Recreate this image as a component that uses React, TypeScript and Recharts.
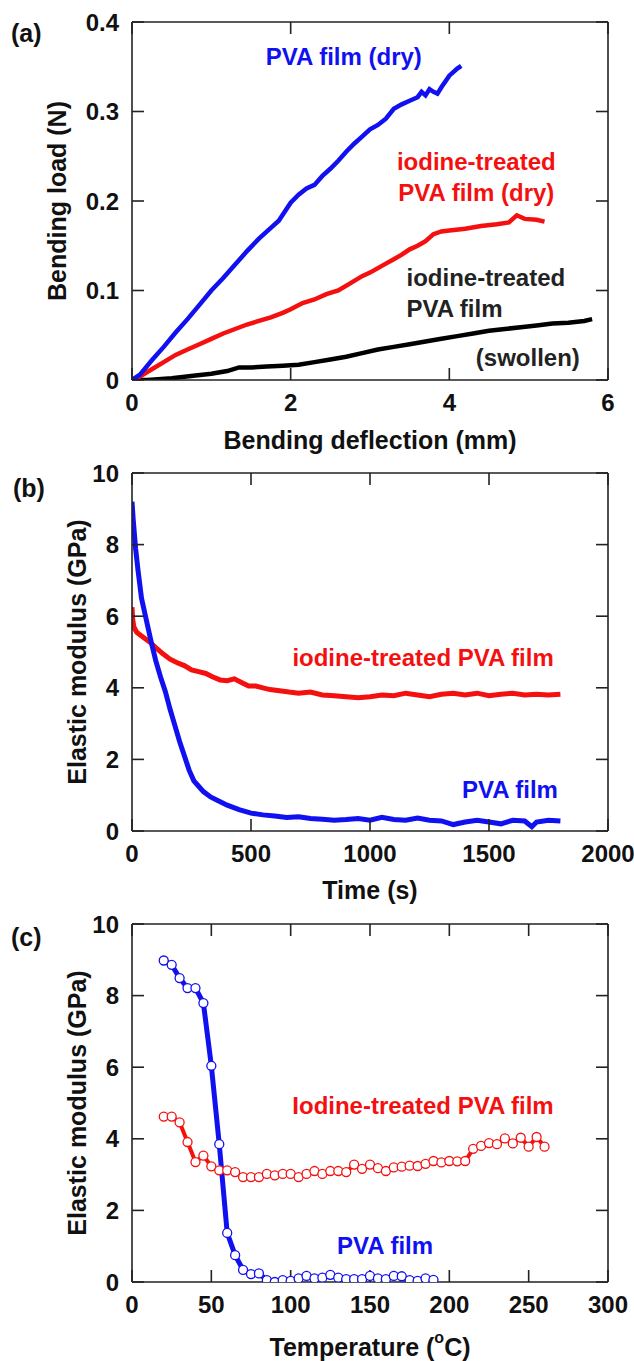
import React from "react";
import { LineChart, Line, XAxis, YAxis, ReferenceDot } from "recharts";

const FONT = '"Liberation Sans", Arial, Helvetica, sans-serif';
const BLUE = "#1010f0";
const RED = "#f51010";
const INK = "#111";

// (a) bending load vs deflection, [mm, N]
const pvaDry: [number, number][] = [
  [0, 0], [0.1, 0.006], [0.25, 0.022], [0.4, 0.037], [0.55, 0.053], [0.7, 0.068], [0.85, 0.084],
  [1.0, 0.1], [1.15, 0.114], [1.3, 0.129], [1.45, 0.144], [1.6, 0.158], [1.75, 0.17], [1.85, 0.178],
  [2.0, 0.198], [2.1, 0.207], [2.2, 0.214], [2.3, 0.218], [2.4, 0.228], [2.5, 0.236], [2.6, 0.245],
  [2.7, 0.255], [2.8, 0.264], [2.9, 0.272], [3.0, 0.28], [3.1, 0.285], [3.2, 0.292], [3.3, 0.303],
  [3.4, 0.308], [3.5, 0.312], [3.6, 0.316], [3.65, 0.322], [3.7, 0.318], [3.75, 0.325], [3.8, 0.322],
  [3.85, 0.32], [3.9, 0.327], [4.0, 0.34], [4.1, 0.348], [4.15, 0.351],
];
const iodineDry: [number, number][] = [
  [0, 0], [0.1, 0.004], [0.25, 0.012], [0.4, 0.02], [0.55, 0.028], [0.7, 0.034], [0.85, 0.04],
  [1.0, 0.046], [1.15, 0.052], [1.3, 0.057], [1.45, 0.062], [1.6, 0.066], [1.75, 0.07], [1.9, 0.075],
  [2.0, 0.079], [2.15, 0.086], [2.3, 0.09], [2.45, 0.096], [2.6, 0.1], [2.75, 0.108], [2.9, 0.116],
  [3.0, 0.12], [3.1, 0.125], [3.2, 0.13], [3.3, 0.135], [3.4, 0.14], [3.5, 0.146], [3.6, 0.15],
  [3.7, 0.155], [3.8, 0.163], [3.9, 0.166], [4.0, 0.167], [4.2, 0.169], [4.4, 0.172], [4.6, 0.174],
  [4.75, 0.176], [4.85, 0.184], [4.95, 0.18], [5.1, 0.179], [5.2, 0.177],
];
const iodineSwollen: [number, number][] = [
  [0, 0], [0.2, 0.0], [0.5, 0.002], [0.8, 0.005], [1.0, 0.007], [1.2, 0.01], [1.35, 0.014],
  [1.5, 0.014], [1.7, 0.015], [1.9, 0.016], [2.1, 0.017], [2.3, 0.02], [2.5, 0.023], [2.7, 0.026],
  [2.9, 0.03], [3.1, 0.034], [3.3, 0.037], [3.5, 0.04], [3.7, 0.043], [3.9, 0.046], [4.1, 0.049],
  [4.3, 0.052], [4.5, 0.055], [4.7, 0.057], [4.9, 0.059], [5.1, 0.061], [5.3, 0.063], [5.5, 0.064],
  [5.7, 0.066], [5.8, 0.068],
];
const aXTicks = [0, 2, 4, 6];
const aYTicks = [0, 0.1, 0.2, 0.3, 0.4];

// (b) elastic modulus vs time, [s, GPa]
const pvaTime: [number, number][] = [
  [0, 9.2], [5, 8.7], [15, 7.9], [25, 7.3], [40, 6.5], [60, 5.9], [80, 5.3], [100, 4.75], [120, 4.3],
  [140, 3.9], [160, 3.4], [180, 2.95], [200, 2.5], [220, 2.1], [240, 1.7], [260, 1.4], [280, 1.25],
  [300, 1.1], [330, 0.95], [360, 0.85], [400, 0.72], [450, 0.6], [500, 0.5], [550, 0.45], [600, 0.42],
  [650, 0.38], [700, 0.4], [750, 0.35], [800, 0.33], [850, 0.3], [900, 0.32], [950, 0.35], [1000, 0.3],
  [1050, 0.38], [1100, 0.32], [1150, 0.3], [1200, 0.36], [1250, 0.3], [1300, 0.28], [1350, 0.18],
  [1400, 0.25], [1450, 0.3], [1500, 0.25], [1550, 0.2], [1600, 0.3], [1650, 0.28], [1680, 0.12],
  [1700, 0.25], [1750, 0.3], [1800, 0.28],
];
const iodineTime: [number, number][] = [
  [0, 6.25], [3, 5.9], [8, 5.7], [20, 5.55], [40, 5.45], [60, 5.35], [80, 5.25], [100, 5.12],
  [130, 4.95], [160, 4.8], [190, 4.7], [220, 4.62], [250, 4.5], [280, 4.45], [310, 4.4], [340, 4.3],
  [370, 4.22], [400, 4.2], [430, 4.25], [460, 4.15], [490, 4.05], [520, 4.05], [550, 4.0], [580, 3.95],
  [620, 3.92], [660, 3.88], [700, 3.85], [750, 3.88], [800, 3.8], [850, 3.78], [900, 3.75], [950, 3.72],
  [1000, 3.75], [1050, 3.8], [1100, 3.78], [1150, 3.85], [1200, 3.8], [1250, 3.75], [1300, 3.82],
  [1350, 3.85], [1400, 3.8], [1450, 3.85], [1500, 3.78], [1550, 3.82], [1600, 3.85], [1650, 3.8],
  [1700, 3.82], [1750, 3.8], [1800, 3.82],
];
const bXTicks = [0, 500, 1000, 1500, 2000];
const bYTicks = [0, 2, 4, 6, 8, 10];

// (c) elastic modulus vs temperature
const pvaTemps = [20, 25, 30, 35, 40, 45, 50, 55, 60, 65, 70, 75, 80, 85, 90, 95, 100, 105, 110, 115, 120, 125, 130, 135, 140, 145, 150, 155, 160, 165, 170, 175, 180, 185, 190];
const pvaModulus = [8.98, 8.86, 8.49, 8.21, 8.21, 7.79, 6.04, 3.85, 1.37, 0.75, 0.34, 0.22, 0.24, 0.05, 0.0, 0.05, 0.03, 0.1, 0.17, 0.1, 0.12, 0.2, 0.12, 0.08, 0.08, 0.08, 0.17, 0.1, 0.08, 0.17, 0.16, 0.05, 0.03, 0.1, 0.06];
const iodineTemps = [20, 25, 30, 35, 40, 45, 50, 55, 60, 65, 70, 75, 80, 85, 90, 95, 100, 105, 110, 115, 120, 125, 130, 135, 140, 145, 150, 155, 160, 165, 170, 175, 180, 185, 190, 195, 200, 205, 210, 215, 220, 225, 230, 235, 240, 245, 250, 255, 260];
const iodineModulus = [4.62, 4.62, 4.46, 3.91, 3.35, 3.53, 3.23, 3.12, 3.12, 3.07, 2.93, 2.93, 2.93, 3.02, 2.98, 3.02, 3.02, 2.93, 3.02, 3.1, 3.02, 3.1, 3.1, 3.07, 3.28, 3.16, 3.28, 3.18, 3.1, 3.2, 3.22, 3.25, 3.24, 3.3, 3.38, 3.34, 3.38, 3.37, 3.38, 3.72, 3.8, 3.88, 3.85, 4.01, 3.87, 4.03, 3.78, 4.05, 3.78];
const cXTicks = [0, 50, 100, 150, 200, 250, 300];
const cYTicks = [0, 2, 4, 6, 8, 10];

const pairs = (arr: [number, number][]) => arr.map(([x, y]) => ({ x, y }));
const zip = (xs: number[], ys: number[]) => xs.map((x, i) => ({ x, y: ys[i] }));

const PLOT_H = 358;
const axisStroke = { stroke: "#222", strokeWidth: 1.6 };
const tickText = { fontSize: 24, fontWeight: "bold", fill: INK, fontFamily: FONT };

const note = (value: string, fill: string) => ({
  value,
  position: "center" as const,
  fill,
  fontSize: 24,
  fontWeight: "bold",
  fontFamily: FONT,
});

type PanelProps = {
  top: number;
  height: number;
  padTop: number;
  xDomain: [number, number];
  xTicks: number[];
  yDomain: [number, number];
  yTicks: number[];
  xTitle: React.ReactNode;
  xTitleDy: number;
  yTitle: string;
  yTitleX: number;
  children: React.ReactNode;
};

const Panel: React.FC<PanelProps> = (p) => (
  <div style={{ position: "absolute", left: 0, top: p.top }}>
    <LineChart width={634} height={p.height} margin={{ top: 0, right: 0, bottom: 0, left: 0 }}>
      <XAxis
        xAxisId="b"
        dataKey="x"
        type="number"
        domain={p.xDomain}
        ticks={p.xTicks}
        allowDataOverflow
        interval={0}
        height={p.height - p.padTop - PLOT_H}
        tickSize={-12}
        tickMargin={26}
        tick={tickText}
        tickLine={axisStroke}
        axisLine={axisStroke}
        label={(lp: any) => {
          const vb = lp.viewBox;
          return (
            <text
              x={vb.x + vb.width / 2}
              y={vb.y + p.xTitleDy}
              textAnchor="middle"
              dominantBaseline="central"
              fontSize={25}
              fontWeight="bold"
              fontFamily={FONT}
              fill={INK}
            >
              {p.xTitle}
            </text>
          );
        }}
      />
      <XAxis
        xAxisId="t"
        orientation="top"
        dataKey="x"
        type="number"
        domain={p.xDomain}
        ticks={p.xTicks}
        allowDataOverflow
        interval={0}
        height={p.padTop}
        tickSize={-12}
        tickFormatter={() => ""}
        tickLine={axisStroke}
        axisLine={axisStroke}
      />
      <YAxis
        yAxisId="l"
        type="number"
        domain={p.yDomain}
        ticks={p.yTicks}
        allowDataOverflow
        interval={0}
        width={132}
        tickSize={-12}
        tickMargin={25}
        tick={tickText}
        tickLine={axisStroke}
        axisLine={axisStroke}
        label={(lp: any) => {
          const vb = lp.viewBox;
          return (
            <text
              transform={`translate(${p.yTitleX},${vb.y + vb.height / 2}) rotate(-90)`}
              textAnchor="middle"
              dominantBaseline="central"
              fontSize={25}
              fontWeight="bold"
              fontFamily={FONT}
              fill={INK}
            >
              {p.yTitle}
            </text>
          );
        }}
      />
      <YAxis
        yAxisId="r"
        orientation="right"
        type="number"
        domain={p.yDomain}
        ticks={p.yTicks}
        allowDataOverflow
        interval={0}
        width={26}
        tickSize={-12}
        tickFormatter={() => ""}
        tickLine={axisStroke}
        axisLine={axisStroke}
      />
      {p.children}
    </LineChart>
  </div>
);

const letter = (text: string, left: number, top: number) => (
  <div
    style={{
      position: "absolute",
      left,
      top,
      fontFamily: FONT,
      fontSize: 25,
      fontWeight: "bold",
      lineHeight: "30px",
      color: INK,
    }}
  >
    {text}
  </div>
);

export default function App() {
  return (
    <div style={{ position: "absolute", left: 0, top: 0, width: 634, height: 1361, background: "#fff" }}>
      <Panel
        top={0}
        height={470}
        padTop={22}
        xDomain={[0, 6]}
        xTicks={aXTicks}
        yDomain={[0, 0.4]}
        yTicks={aYTicks}
        xTitle="Bending deflection (mm)"
        xTitleDy={60}
        yTitle="Bending load (N)"
        yTitleX={57}
      >
        <Line xAxisId="b" yAxisId="l" data={pairs(iodineSwollen)} dataKey="y" stroke="#000" strokeWidth={4.5} dot={false} isAnimationActive={false} />
        <Line xAxisId="b" yAxisId="l" data={pairs(iodineDry)} dataKey="y" stroke={RED} strokeWidth={4.5} dot={false} isAnimationActive={false} />
        <Line xAxisId="b" yAxisId="l" data={pairs(pvaDry)} dataKey="y" stroke={BLUE} strokeWidth={4.5} dot={false} isAnimationActive={false} />
        <ReferenceDot xAxisId="b" yAxisId="l" x={2.67} y={0.361} r={0} stroke="none" fill="none" label={note("PVA film (dry)", BLUE)} />
        <ReferenceDot xAxisId="b" yAxisId="l" x={4.34} y={0.2436} r={0} stroke="none" fill="none" label={note("iodine-treated", RED)} />
        <ReferenceDot xAxisId="b" yAxisId="l" x={4.34} y={0.21} r={0} stroke="none" fill="none" label={note("PVA film (dry)", RED)} />
        <ReferenceDot xAxisId="b" yAxisId="l" x={4.46} y={0.114} r={0} stroke="none" fill="none" label={note("iodine-treated", "#222")} />
        <ReferenceDot xAxisId="b" yAxisId="l" x={4.065} y={0.0804} r={0} stroke="none" fill="none" label={note("PVA film", "#222")} />
        <ReferenceDot xAxisId="b" yAxisId="l" x={4.99} y={0.0257} r={0} stroke="none" fill="none" label={note("(swollen)", "#222")} />
      </Panel>

      <Panel
        top={450}
        height={470}
        padTop={23}
        xDomain={[0, 2000]}
        xTicks={bXTicks}
        yDomain={[0, 10]}
        yTicks={bYTicks}
        xTitle="Time (s)"
        xTitleDy={59}
        yTitle="Elastic modulus (GPa)"
        yTitleX={77}
      >
        <Line xAxisId="b" yAxisId="l" data={pairs(iodineTime)} dataKey="y" stroke={RED} strokeWidth={5} dot={false} isAnimationActive={false} />
        <Line xAxisId="b" yAxisId="l" data={pairs(pvaTime)} dataKey="y" stroke={BLUE} strokeWidth={5} dot={false} isAnimationActive={false} />
        <ReferenceDot xAxisId="b" yAxisId="l" x={1223} y={4.86} r={0} stroke="none" fill="none" label={note("iodine-treated PVA film", RED)} />
        <ReferenceDot xAxisId="b" yAxisId="l" x={1588} y={1.15} r={0} stroke="none" fill="none" label={note("PVA film", BLUE)} />
      </Panel>

      <Panel
        top={900}
        height={461}
        padTop={24}
        xDomain={[0, 300]}
        xTicks={cXTicks}
        yDomain={[0, 10]}
        yTicks={cYTicks}
        xTitle={
          <>
            <tspan>Temperature (</tspan>
            <tspan dy={-10} fontSize={16}>o</tspan>
            <tspan dy={10}>C)</tspan>
          </>
        }
        xTitleDy={65}
        yTitle="Elastic modulus (GPa)"
        yTitleX={77}
      >
        <Line
          xAxisId="b"
          yAxisId="l"
          data={zip(iodineTemps, iodineModulus)}
          dataKey="y"
          stroke={RED}
          strokeWidth={4}
          dot={{ r: 4.5, fill: "#fff", stroke: RED, strokeWidth: 1.3 }}
          isAnimationActive={false}
        />
        <Line
          xAxisId="b"
          yAxisId="l"
          data={zip(pvaTemps, pvaModulus)}
          dataKey="y"
          stroke={BLUE}
          strokeWidth={5}
          dot={{ r: 4.5, fill: "#fff", stroke: BLUE, strokeWidth: 1.3 }}
          isAnimationActive={false}
        />
        <ReferenceDot xAxisId="b" yAxisId="l" x={183.4} y={4.94} r={0} stroke="none" fill="none" label={note("Iodine-treated PVA film", RED)} />
        <ReferenceDot xAxisId="b" yAxisId="l" x={159.5} y={1.03} r={0} stroke="none" fill="none" label={note("PVA film", BLUE)} />
      </Panel>

      {letter("(a)", 11, 18)}
      {letter("(b)", 13, 473)}
      {letter("(c)", 11, 922)}
    </div>
  );
}
